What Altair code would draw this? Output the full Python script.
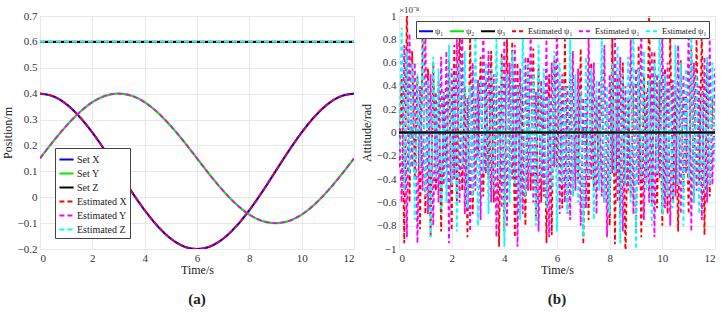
import altair as alt
import pandas as pd

# ---------------- Panel (a) data: position vs time (0.5 s steps)
t_a = [0, 0.5, 1, 1.5, 2, 2.5, 3, 3.5, 4, 4.5, 5, 5.5, 6, 6.5, 7, 7.5, 8, 8.5, 9, 9.5, 10, 10.5, 11, 11.5, 12]
set_x = [0.400, 0.390, 0.360, 0.312, 0.250, 0.178, 0.100, 0.022, -0.050, -0.112, -0.160, -0.190, -0.200,
         -0.190, -0.160, -0.112, -0.050, 0.022, 0.100, 0.178, 0.250, 0.312, 0.360, 0.390, 0.400]
set_y = [0.150, 0.215, 0.275, 0.327, 0.367, 0.392, 0.400, 0.392, 0.367, 0.327, 0.275, 0.215, 0.150,
         0.085, 0.025, -0.027, -0.067, -0.092, -0.100, -0.092, -0.067, -0.027, 0.025, 0.085, 0.150]
set_z = [0.6] * 25
est_x = set_x
est_y = set_y
est_z = set_z

# ---------------- Panel (b) data: attitude (x1e-8 rad), 0.1 s steps
red = [-0.3, 0.5, -0.95, 1.1, -0.6, 0.7, -0.4, 0.48, -0.83, 0.9, -0.7, 0.55, -0.9, 0.6, -0.5, 0.45, -0.85, 0.35,
       -0.3, 0.62, -0.84, 0.75, -0.6, 0.95, -0.5, 0.4, -0.9, 0.85, -0.7, 0.3, -0.2, 0.65, -0.55, 0.45, -0.4, 0.7,
       -0.6, 0.5, -0.98, 0.68, -0.85, 0.8, -0.45, 0.78, -0.9, 0.6, -0.7, 0.4, -0.8, 0.65, -0.5, 0.72, -0.75, 0.55,
       -0.6, 0.35, -0.95, 0.5, -0.88, 0.62, -0.3, 0.45, -0.65, 0.8, -0.7, 0.5, -0.55, 0.2, -0.4, 0.72, -0.96, 0.3,
       -0.75, 0.6, -0.5, 0.28, -0.45, 0.55, -0.6, 0.25, -0.8, 0.82, -0.96, 0.5, -0.7, 0.6, -1.1, 0.3, -0.55, 0.42,
       -0.85, 0.75, -0.9, 0.5, -0.4, 1.05, -0.6, 0.7, -0.65, 0.45, -0.8, 0.55, -0.7, 0.85, -0.6, 0.4, -0.85, 0.62,
       -0.5, 0.35, -0.7, 0.75, -0.6, 0.8, -0.45, 0.9, -0.88, 0.6, -0.55, 0.3, -0.2]
magenta = [0.1, -0.6, 0.75, -0.9, 0.85, -0.3, 0.6, -0.95, 0.4, -0.5, 0.9, -0.7, 0.5, -0.8, 0.35, -0.6, 0.65, -0.45,
           0.7, -0.95, 0.55, -0.4, 0.8, -0.6, 0.9, -0.7, 0.3, -0.85, 0.6, -0.5, 0.45, -0.75, 0.95, -0.35, 0.7, -0.6,
           0.5, -0.9, 0.4, -0.65, 0.85, -0.8, 0.6, -0.4, 0.75, -0.98, 0.55, -0.7, 0.65, -0.5, 0.9, -0.6, 0.35, -0.85,
           0.45, -0.55, 0.8, -0.9, 0.6, -0.3, 0.95, -0.7, 0.5, -0.6, 0.4, -0.75, 0.7, -0.5, 0.55, -0.8, 0.3, -0.65,
           0.85, -0.4, 0.6, -0.7, 0.45, -0.55, 0.75, -0.9, 0.5, -0.35, 0.9, -0.6, 0.65, -0.85, 0.4, -0.5, 0.8, -0.7,
           0.55, -0.45, 0.95, -0.75, 0.35, -0.6, 0.7, -0.9, 0.5, -0.4, 0.85, -0.65, 0.6, -0.8, 0.45, -0.55, 0.75,
           -0.7, 0.5, -0.35, 0.9, -0.85, 0.6, -0.5, 0.4, -0.75, 0.65, -0.6, 0.8, -0.45, 0.55]
cyan = [-0.2, 0.9, -0.5, 0.7, -0.35, 0.6, -0.75, 0.5, -0.3, 0.8, -0.55, 0.45, -0.9, 0.65, -0.4, 0.55, -0.7, 0.35,
        -0.6, 0.75, -0.45, 0.5, -0.85, 0.6, -0.3, 0.7, -0.65, 0.4, -0.55, 0.95, -0.8, 0.45, -0.35, 0.6, -0.7, 0.55,
        -0.5, 0.8, -0.4, 0.65, -0.98, 0.5, -0.6, 0.7, -0.45, 0.4, -0.75, 0.9, -0.55, 0.6, -0.35, 0.5, -0.8, 0.75,
        -0.4, 0.55, -0.65, 0.3, -0.5, 0.7, -0.85, 0.6, -0.45, 0.4, -0.7, 0.8, -0.55, 0.5, -0.6, 0.35, -0.9, 0.65,
        -0.4, 0.55, -0.75, 0.45, -0.5, 0.85, -0.6, 0.4, -0.7, 0.6, -0.35, 0.75, -0.95, 0.5, -0.45, 0.65, -0.6, 0.9,
        -1.0, 0.55, -0.4, 0.7, -0.5, 0.45, -0.8, 0.6, -0.35, 0.95, -0.7, 0.5, -0.55, 0.4, -0.65, 0.75, -0.45, 0.6,
        -0.8, 0.55, -0.4, 0.85, -0.6, 0.5, -0.7, 0.35, -0.5, 0.65, -0.45, 0.6, -0.3]
psi_t = [0, 12]
psi_set = [0.0, 0.0]

FONT = "Liberation Serif"
W1, H1 = 314, 233
W2, H2 = 316, 233

def ax(values, title, fmt, tpad):
    return alt.Axis(values=values, title=title, format=fmt, grid=True, gridColor="#e8e8e8",
                    domain=False, ticks=False, labelFont=FONT, labelFontSize=11, labelColor="#333",
                    labelPadding=3, titleFont=FONT, titleFontSize=12, titleColor="#222",
                    titleFontWeight="normal", titlePadding=tpad)

def series_rows(ts, vals, name):
    return [{"t": a, "v": b, "s": name} for a, b in zip(ts, vals)]

a_solid = pd.DataFrame(series_rows(t_a, set_x, "Set X") + series_rows(t_a, set_y, "Set Y") +
                       series_rows(t_a, set_z, "Set Z"))
a_dash = pd.DataFrame(series_rows(t_a, est_x, "Estimated X") + series_rows(t_a, est_y, "Estimated Y") +
                      series_rows(t_a, est_z, "Estimated Z"))

def tgrid(vals):
    n = len(vals)
    return [12 * i / (n - 1) for i in range(n)]

b_dash = pd.DataFrame(series_rows(tgrid(red), red, "e1") + series_rows(tgrid(magenta), magenta, "e2") +
                      series_rows(tgrid(cyan), cyan, "e3"))
b_solid = pd.DataFrame(series_rows(psi_t, psi_set, "p1") + series_rows(psi_t, psi_set, "p2") +
                       series_rows(psi_t, psi_set, "p3"))

# ---------------- Panel (a)
dom_a = ["Set X", "Set Y", "Set Z", "Estimated X", "Estimated Y", "Estimated Z"]
col_a = ["#0000ff", "#00ee00", "#000000", "#ff0000", "#ff00ff", "#00ffff"]
dash_a = [[1, 0], [1, 0], [1, 0], [5, 3], [5, 3], [5, 3]]

xa = alt.X("t:Q", scale=alt.Scale(domain=[0, 12], nice=False),
           axis=ax([0, 2, 4, 6, 8, 10, 12], "Time/s", "~f", 1))
ya = alt.Y("v:Q", scale=alt.Scale(domain=[-0.2, 0.7], nice=False),
           axis=ax([-0.2, -0.1, 0, 0.1, 0.2, 0.3, 0.4, 0.5, 0.6, 0.7], "Position/m", ".1~f", 3))
color_a = alt.Color("s:N", scale=alt.Scale(domain=dom_a, range=col_a),
                    legend=alt.Legend(title=None, orient="none", legendX=15, legendY=132,
                                      fillColor="white", strokeColor="#444", padding=3,
                                      symbolType="stroke", symbolStrokeWidth=2, symbolSize=200,
                                      labelFont=FONT, labelFontSize=10, labelColor="#222",
                                      rowPadding=0, labelOffset=2))
dashenc_a = alt.StrokeDash("s:N", scale=alt.Scale(domain=dom_a, range=dash_a), legend=None)

la1 = alt.Chart(a_solid).mark_line(strokeWidth=2.2, interpolate="monotone", clip=True).encode(
    x=xa, y=ya, color=color_a, strokeDash=dashenc_a, detail="s:N")
la2 = alt.Chart(a_dash).mark_line(strokeWidth=1.8, interpolate="monotone", clip=True).encode(
    x=xa, y=ya, color=color_a, strokeDash=dashenc_a, detail="s:N")
lab_a = alt.Chart(pd.DataFrame({"txt": ["(a)"]})).mark_text(
    font=FONT, fontSize=15, fontWeight="bold", color="#222", baseline="middle").encode(
    text="txt:N", x=alt.value(W1 / 2), y=alt.value(H1 + 50))
panel_a = alt.layer(la1, la2, lab_a).properties(width=W1, height=H1)

# ---------------- Panel (b)
dom_b = ["p1", "p2", "p3", "e1", "e2", "e3"]
col_b = ["#0000ff", "#00ee00", "#000000", "#ff0000", "#ff00ff", "#00ffff"]
dash_b = [[1, 0], [1, 0], [1, 0], [4, 3], [4, 3], [4, 3]]
label_expr = ("{'p1':'ψ₁','p2':'ψ₂','p3':'ψ₃','e1':'Estimated ψ₁','e2':'Estimated ψ₁',"
              "'e3':'Estimated ψ₁'}[datum.value]")

xb = alt.X("t:Q", scale=alt.Scale(domain=[0, 12], nice=False),
           axis=ax([0, 2, 4, 6, 8, 10, 12], "Time/s", "~f", 1))
yb = alt.Y("v:Q", scale=alt.Scale(domain=[-1, 1], nice=False),
           axis=ax([-1, -0.8, -0.6, -0.4, -0.2, 0, 0.2, 0.4, 0.6, 0.8, 1], "Attitude/rad", ".1~f", 3))
color_b = alt.Color("s:N", scale=alt.Scale(domain=dom_b, range=col_b),
                    legend=alt.Legend(title=None, orient="none", legendX=17, legendY=5,
                                      direction="horizontal", columns=6, labelExpr=label_expr,
                                      fillColor="white", strokeColor="#444", padding=2,
                                      symbolType="stroke", symbolStrokeWidth=2, symbolSize=196,
                                      labelFont=FONT, labelFontSize=8.5, labelColor="#222",
                                      columnPadding=2, labelOffset=1, labelLimit=80))
dashenc_b = alt.StrokeDash("s:N", scale=alt.Scale(domain=dom_b, range=dash_b), legend=None)

lb1 = alt.Chart(b_dash).mark_line(strokeWidth=1.8, clip=True).encode(
    x=xb, y=yb, color=color_b, strokeDash=dashenc_b, detail="s:N")
lb2 = alt.Chart(b_solid).mark_line(strokeWidth=2.2, clip=True).encode(
    x=xb, y=yb, color=color_b, strokeDash=dashenc_b, detail="s:N")
exp_b = alt.Chart(pd.DataFrame({"txt": ["×10⁻⁸"]})).mark_text(
    font=FONT, fontSize=9, color="#333", baseline="bottom", align="left").encode(
    text="txt:N", x=alt.value(0), y=alt.value(-1))
lab_b = alt.Chart(pd.DataFrame({"txt": ["(b)"]})).mark_text(
    font=FONT, fontSize=15, fontWeight="bold", color="#222", baseline="middle").encode(
    text="txt:N", x=alt.value(W2 / 2), y=alt.value(H2 + 50))
panel_b = alt.layer(lb1, lb2, exp_b, lab_b).properties(width=W2, height=H2)

chart = alt.hconcat(panel_a, panel_b, spacing=4).resolve_scale(
    color="independent", strokeDash="independent").properties(
    padding={"left": 0, "top": 5, "right": 8, "bottom": 0}
).configure_view(stroke="#999", strokeWidth=1).configure(background="white")

chart.save("out.html", embed_options={"renderer": "svg", "actions": False})
